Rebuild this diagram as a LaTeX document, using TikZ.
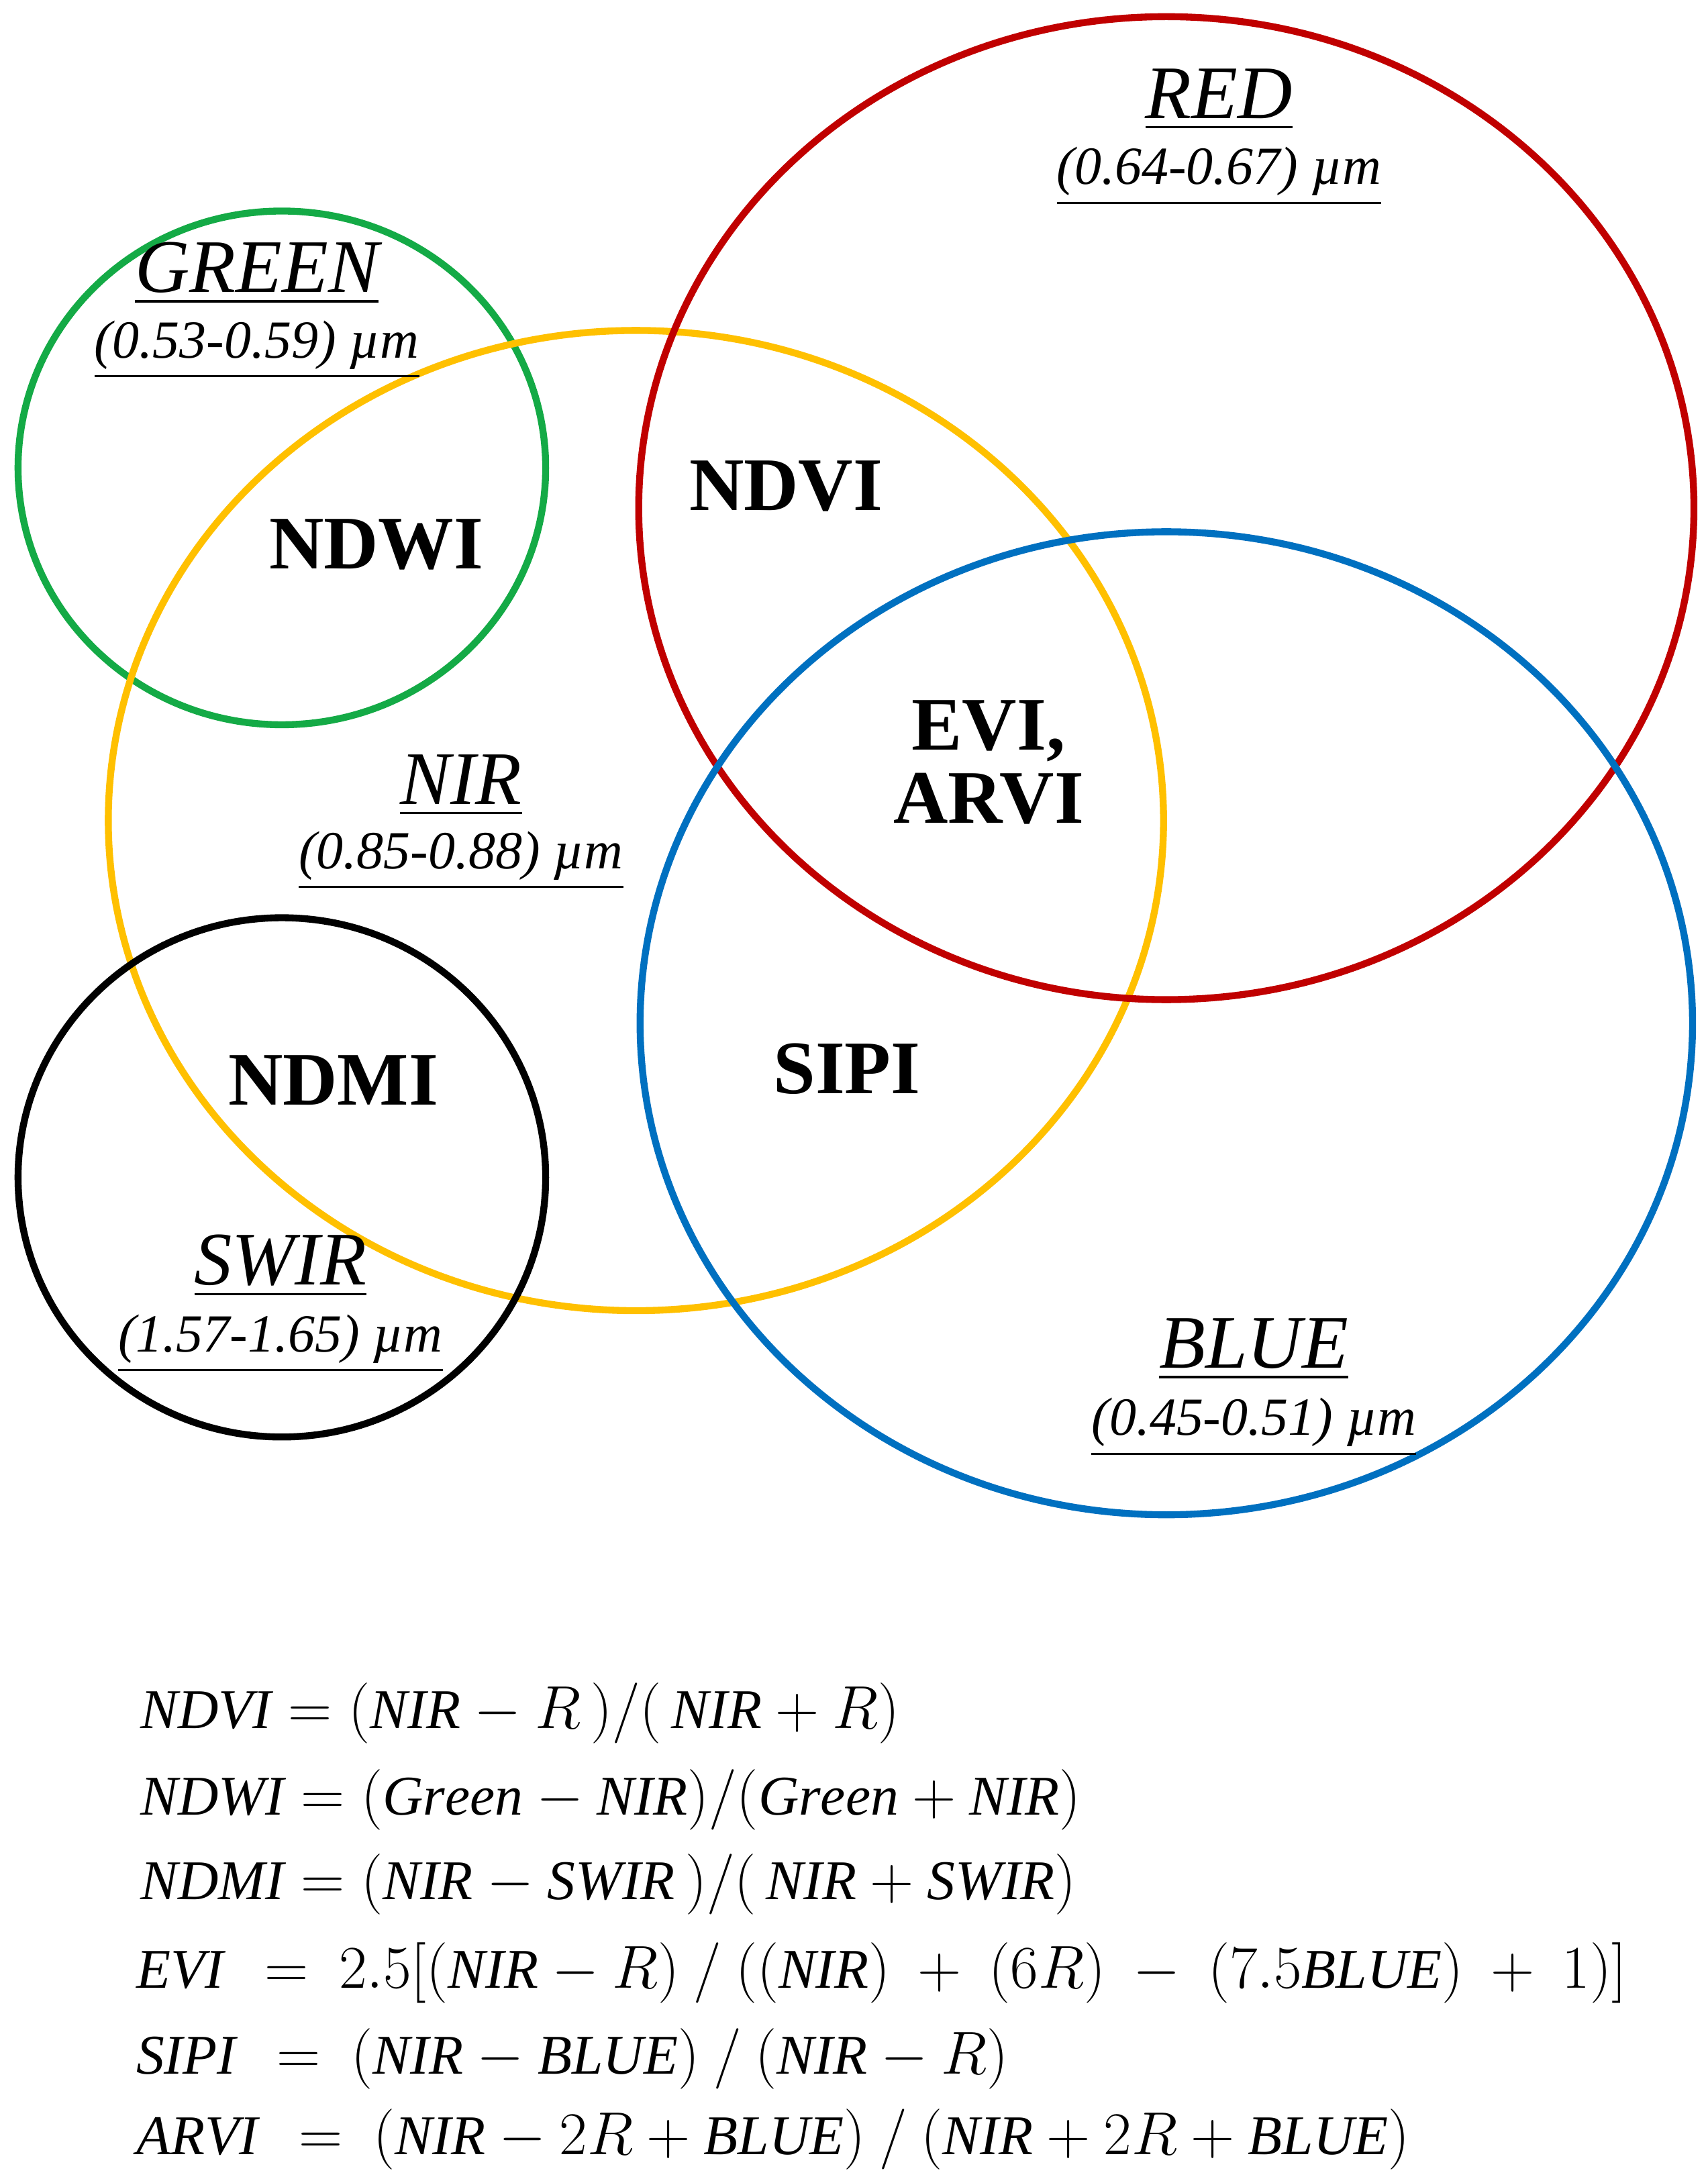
\documentclass[tikz,border=0pt]{standalone}
\usepackage{fontspec}
\setmainfont{Liberation Serif}
\usepackage{amsmath}
\begin{document}
\begin{tikzpicture}[x=0.02cm,y=-0.02cm,
  ring/.style={line width=0.1cm},
  band/.style={font=\fontsize{31}{34}\selectfont\itshape},
  rng/.style={font=\fontsize{22}{25}\selectfont\itshape},
  idx/.style={font=\fontsize{31}{34}\selectfont\bfseries, align=center},
  frm/.style={anchor=base west, font=\fontsize{23}{26}\selectfont}]
\useasboundingbox (0,0) rectangle (1230,1568);
\definecolor{cgreen}{RGB}{20,170,70}
\definecolor{cyellow}{RGB}{255,192,0}
\definecolor{cred}{RGB}{192,0,0}
\definecolor{cblue}{RGB}{0,112,192}
\draw[ring,cgreen] (203,337) ellipse [x radius=190, y radius=185];
\draw[ring,cyellow] (458,591) ellipse [x radius=380, y radius=353];
\draw[ring,cred] (840,366) ellipse [x radius=380, y radius=354];
\draw[ring,cblue] (840,737) ellipse [x radius=379, y radius=354];
\draw[ring,black] (203,848) ellipse [x radius=190, y radius=187];
\node[band] (red) at (878,72) {\underline{RED}};
\node[rng] (redr) at (878,127) {\underline{(0.64-0.67) µm}};
\node[band] (green) at (185,197) {\underline{GREEN}};
\node[rng] (greenr) at (185,252) {\underline{(0.53-0.59) µm}};
\node[band] (nir) at (332,566) {\underline{NIR}};
\node[rng] (nirr) at (332,620) {\underline{(0.85-0.88) µm}};
\node[band] (swir) at (202,912) {\underline{SWIR}};
\node[rng] (swirr) at (202,968) {\underline{(1.57-1.65) µm}};
\node[band] (blue) at (903,972) {\underline{BLUE}};
\node[rng] (bluer) at (903,1028) {\underline{(0.45-0.51) µm}};
\node[idx] (ndwi) at (271,392) {NDWI};
\node[idx] (ndvi) at (566,350) {NDVI};
\node[idx] (evi) at (712,549) {EVI,\\[-4pt]ARVI};
\node[idx] (ndmi) at (240,778) {NDMI};
\node[idx] (sipi) at (610,770) {SIPI};
\node[frm] (f1) at (95,1245) {$\mathit{NDVI}=(\mathit{NIR}-R\,)/(\,\mathit{NIR}+R)$};
\node[frm] (f2) at (95,1307) {$\mathit{NDWI}=(\mathit{Green}-\mathit{NIR})/(\mathit{Green}+\mathit{NIR})$};
\node[frm] (f3) at (95,1368) {$\mathit{NDMI}=(\mathit{NIR}-\mathit{SWIR}\,)/(\,\mathit{NIR}+\mathit{SWIR})$};
\node[frm] (f4) at (92,1432) {$\mathit{EVI}\ \,=\ 2.5[(\mathit{NIR}-R)\ /\ ((\mathit{NIR})\ +\ (6R)\ -\ (7.5\mathit{BLUE})\ +\ 1)]$};
\node[frm] (f5) at (92,1494) {$\mathit{SIPI}\ \,=\ (\mathit{NIR}-\mathit{BLUE})\ /\ (\mathit{NIR}-R)$};
\node[frm] (f6) at (92,1552) {$\mathit{ARVI}\ \,=\ (\mathit{NIR}-2R+\mathit{BLUE})\ /\ (\mathit{NIR}+2R+\mathit{BLUE})$};
\end{tikzpicture}
\end{document}
